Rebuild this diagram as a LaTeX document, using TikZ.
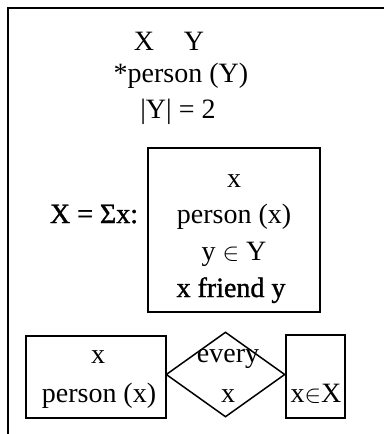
\documentclass[tikz,border=0pt]{standalone}
\usepackage{fontspec}
\setmainfont{Liberation Serif}
\newfontfamily\heavyser[FakeBold=1.2]{Liberation Serif}
\usetikzlibrary{shapes.geometric}
\begin{document}
\begin{tikzpicture}[x=1pt,y=-1pt,
  txt/.style={anchor=base,inner sep=0pt,font=\fontsize{28}{32}\selectfont},
  frame/.style={draw,line width=1.5pt},
  boxs/.style={draw,line width=1.5pt,inner sep=0pt}]
\useasboundingbox (0,0) rectangle (384,434);
% outer open frame
\coordinate (o1) at (8,434);
\coordinate (o2) at (8,8);
\coordinate (o3) at (384,8);
\draw[frame] (o1) -- (o2) -- (o3);
% top universe and conditions
\node[txt] (xy) at (169,50) {X\hspace{30pt}Y};
\node[txt] (pY) at (181,82) {*person (Y)};
\node[txt] (cY) at (178,118) {|Y| = 2};
% inner box
\node[boxs,minimum width=172pt,minimum height=164pt] (ib) at (234,230) {};
\node[txt] (lab) at (94,223) {\heavyser X = Σx:};
\node[txt] (ix) at (234,187) {x};
\node[txt] (ipx) at (234,223) {person (x)};
\node[txt] (iyY) at (234,260) {y $\in$ Y};
\node[txt] (ifr) at (231,297) {\heavyser x friend y};
% bottom duplex condition
\node[boxs,minimum width=140pt,minimum height=82pt] (lb) at (96,377) {};
\node[txt] (lx) at (98,363) {x};
\node[txt] (lpx) at (99,402) {person (x)};
\node[draw,line width=1.5pt,diamond,inner sep=0pt,minimum width=119pt,minimum height=85pt] (dm) at (225.5,374.5) {};
\node[txt] (dev) at (228,362) {every};
\node[txt] (dx) at (228,402) {x};
\node[boxs,minimum width=59pt,minimum height=83pt] (rb) at (315.5,376.5) {};
\node[txt] (rx) at (316,402) {x$\in$X};
\end{tikzpicture}
\end{document}
